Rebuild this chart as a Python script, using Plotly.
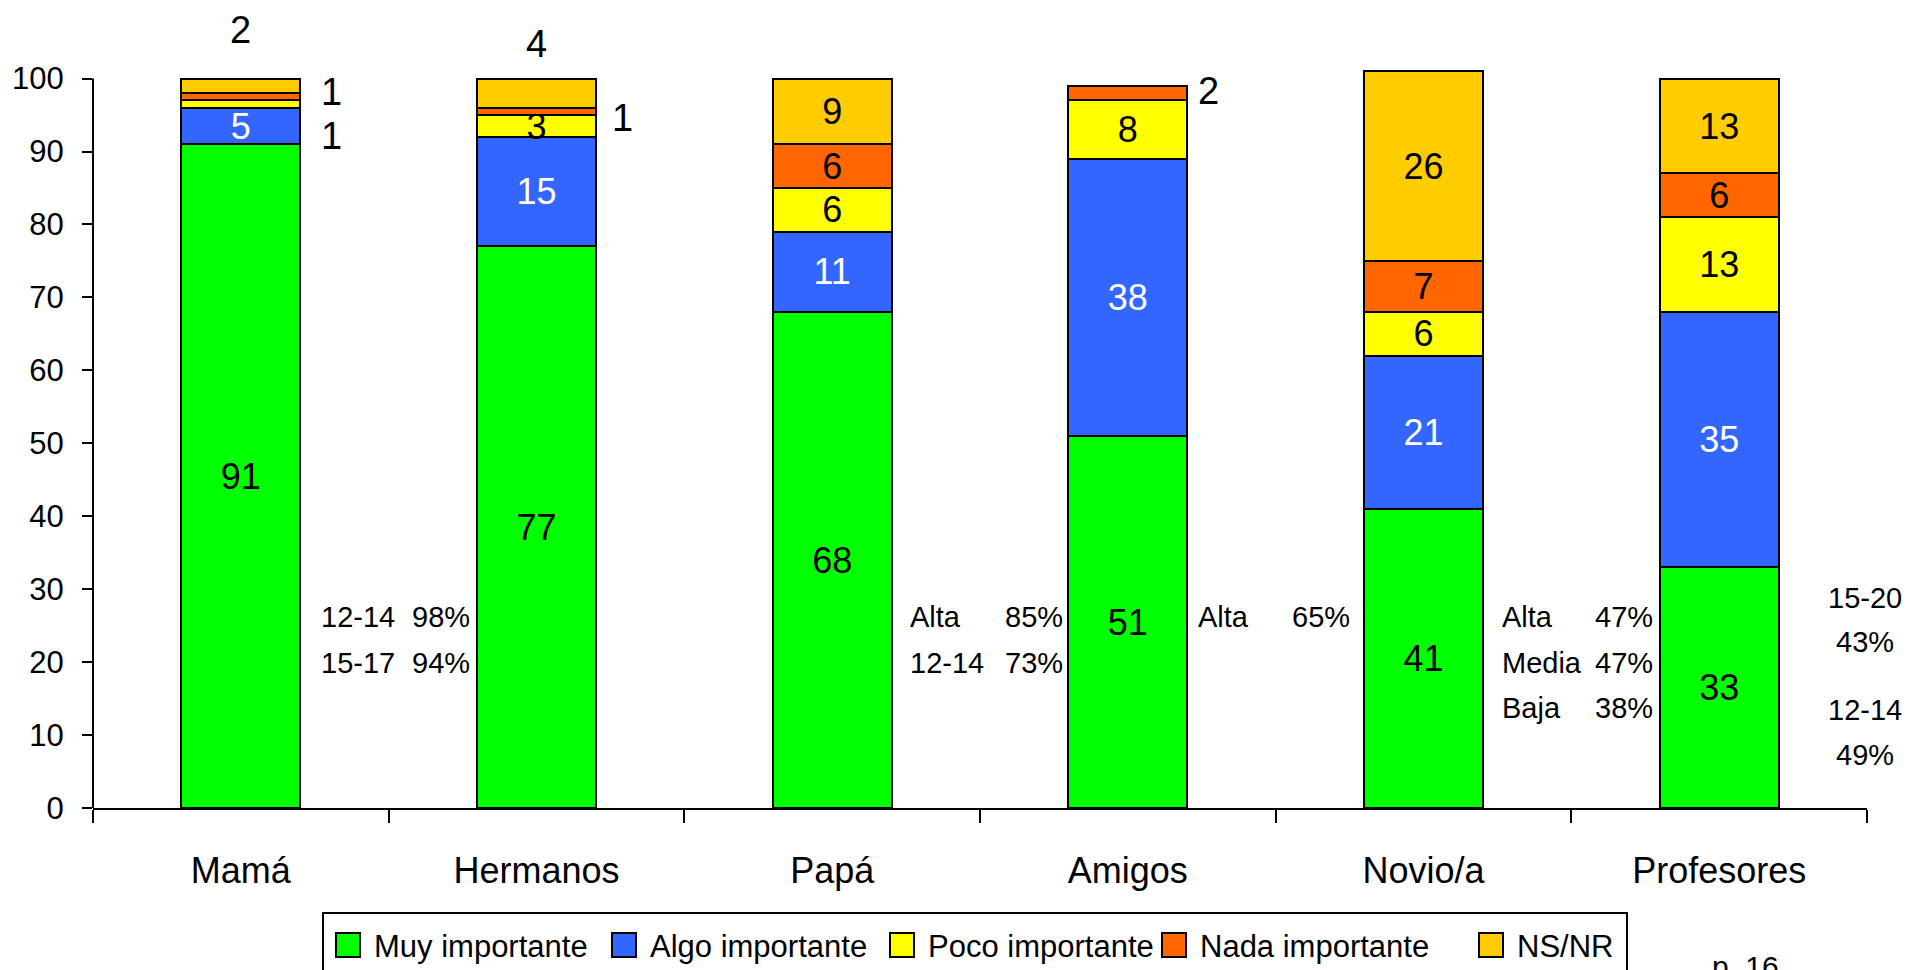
import plotly.graph_objects as go

# ---------------- data ----------------
categories = ["Mamá", "Hermanos", "Papá", "Amigos", "Novio/a", "Profesores"]
series_names = ["Muy importante", "Algo importante", "Poco importante", "Nada importante", "NS/NR"]
muy = [91, 77, 68, 51, 41, 33]
algo = [5, 15, 11, 38, 21, 35]
poco = [1, 3, 6, 8, 6, 13]
nada = [1, 1, 6, 2, 7, 6]
nsnr = [2, 4, 9, 0, 26, 13]
y_ticks = [0, 10, 20, 30, 40, 50, 60, 70, 80, 90, 100]

notes_mama = [("12-14", "98%"), ("15-17", "94%")]
notes_papa = [("Alta", "85%"), ("12-14", "73%")]
notes_amigos = [("Alta", "65%")]
notes_novio = [("Alta", "47%"), ("Media", "47%"), ("Baja", "38%")]
notes_prof = ["15-20", "43%", "12-14", "49%"]
page_note = "p. 16"

# ---------------- style ----------------
colors = ["#00FF00", "#3366FF", "#FFFF00", "#FF6600", "#FFCC00"]
text_colors = ["black", "white", "black", "black", "black"]
FONT = "Liberation Sans, Arial, sans-serif"

W, H = 1908, 970
L, R, T, B = 93, 41, 64, 162
pw, ph = W - L - R, H - T - B


def px_x(px):
    return (px - L) / pw


def px_y(py):
    return (H - B - py) / ph


values = [muy, algo, poco, nada, nsnr]

# segments labelled outside the bar: (category, series) -> pixel offset from segment centre
outside = {
    (0, 4): (0, -56),
    (0, 3): (91, -5),
    (0, 2): (91, 32),
    (1, 4): (0, -49),
    (1, 3): (86, 7),
    (3, 3): (81, -2),
}

fig = go.Figure()
for s, (name, vals) in enumerate(zip(series_names, values)):
    texts = []
    for c, v in enumerate(vals):
        if v == 0 or (c, s) in outside:
            texts.append("")
        else:
            texts.append(str(v))
    fig.add_trace(go.Bar(
        name=name, x=categories, y=[v if v else None for v in vals],
        marker=dict(color=colors[s], line=dict(color="black", width=2)),
        text=texts, textposition="inside", insidetextanchor="middle",
        textangle=0, constraintext="none",
        textfont=dict(family=FONT, size=36, color=text_colors[s]),
        hoverinfo="x+y+name",
    ))

annotations = []
# outside value labels
for (c, s), (dx, dy) in outside.items():
    base = sum(values[k][c] for k in range(s))
    mid = base + values[s][c] / 2
    annotations.append(dict(
        x=categories[c], y=mid, xref="x", yref="y", text=str(values[s][c]),
        showarrow=False, xshift=dx, yshift=-dy, xanchor="center", yanchor="middle",
        font=dict(family=FONT, size=38, color="black")))

NOTE_SIZE = 29


def add_note_rows(rows, left_px, right_px, y_pxs):
    for (lab, pct), ypx in zip(rows, y_pxs):
        annotations.append(dict(x=px_x(left_px), y=px_y(ypx), xref="paper", yref="paper",
                                text=lab, showarrow=False, xanchor="left", yanchor="middle",
                                font=dict(family=FONT, size=NOTE_SIZE, color="black")))
        annotations.append(dict(x=px_x(right_px), y=px_y(ypx), xref="paper", yref="paper",
                                text=pct, showarrow=False, xanchor="right", yanchor="middle",
                                font=dict(family=FONT, size=NOTE_SIZE, color="black")))


add_note_rows(notes_mama, 319, 472, [617, 663])
add_note_rows(notes_papa, 908, 1065, [617, 663])
add_note_rows(notes_amigos, 1196, 1352, [617])
add_note_rows(notes_novio, 1500, 1655, [617, 663, 708])
for txt, ypx in zip(notes_prof, [598, 642, 710, 755]):
    annotations.append(dict(x=px_x(1865), y=px_y(ypx), xref="paper", yref="paper",
                            text=txt, showarrow=False, xanchor="center", yanchor="middle",
                            font=dict(family=FONT, size=NOTE_SIZE, color="black")))

# manual legend
shapes = [
    dict(type="line", xref="paper", yref="y", x0=0, x1=0, y0=0, y1=100,
         line=dict(color="black", width=2)),
    dict(type="rect", xref="paper", yref="paper", x0=px_x(323), x1=px_x(1627),
         y0=px_y(913), y1=px_y(995), line=dict(color="black", width=2), fillcolor="white",
         layer="below"),
]
sq_left = [336, 612, 890, 1162, 1479]
for s, name in enumerate(series_names):
    x0 = sq_left[s]
    shapes.append(dict(type="rect", xref="paper", yref="paper", x0=px_x(x0), x1=px_x(x0 + 24),
                       y0=px_y(933), y1=px_y(957), fillcolor=colors[s],
                       line=dict(color="black", width=2)))
    annotations.append(dict(x=px_x(x0 + 36), y=px_y(946), xref="paper", yref="paper",
                            text=name, showarrow=False, xanchor="left", yanchor="middle",
                            font=dict(family=FONT, size=31, color="black")))

annotations.append(dict(x=px_x(1710), y=px_y(966), xref="paper", yref="paper",
                        text=page_note, showarrow=False, xanchor="left", yanchor="middle",
                        font=dict(family=FONT, size=30, color="black")))

fig.update_layout(
    width=W, height=H,
    margin=dict(l=L, r=R, t=T, b=B, autoexpand=False),
    barmode="stack", bargap=0.597,
    plot_bgcolor="white", paper_bgcolor="white",
    showlegend=False,
    shapes=shapes, annotations=annotations,
    xaxis=dict(showline=True, linecolor="black", linewidth=2, ticks="outside",
               tickson="boundaries", ticklen=13, tickwidth=2, tickcolor="black",
               showgrid=False, zeroline=False, ticklabelstandoff=30,
               tickfont=dict(family=FONT, size=36, color="black")),
    yaxis=dict(range=[0, 102], tickvals=y_ticks, ticks="outside", ticklen=10, tickwidth=2,
               tickcolor="black", showline=False, showgrid=False, zeroline=False,
               ticklabelstandoff=12, tickfont=dict(family=FONT, size=31, color="black")),
)

fig.write_html("out.html", config={"displayModeBar": False},
               post_script="document.body.style.margin='0';document.body.style.overflow='hidden';")
